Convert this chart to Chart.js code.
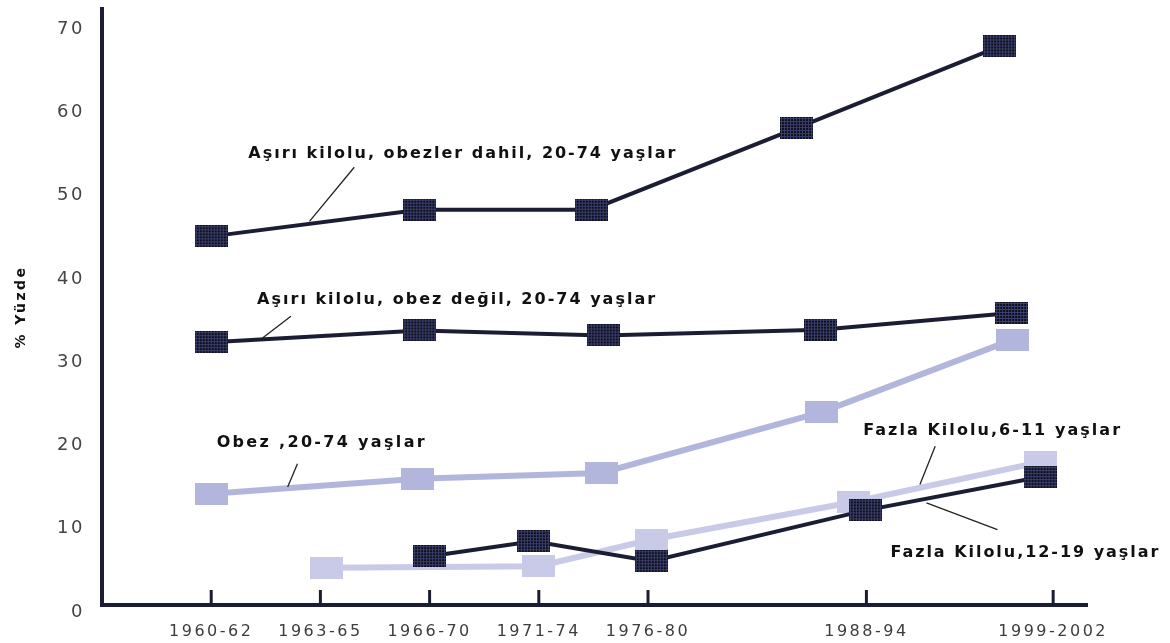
<!DOCTYPE html>
<html><head><meta charset="utf-8">
<script src="https://cdn.jsdelivr.net/npm/chart.js@4.4.1/dist/chart.umd.min.js"></script>
<style>html,body{margin:0;padding:0;background:#fff;}#wrap{width:1170px;height:643px;}</style>
</head><body><div id="wrap"><canvas id="c" width="1170" height="643"></canvas></div>
<script>
// ---- data ----
const tickPositions = [0, 1, 2, 3, 4, 6, 7.71];
const tickLabels = ['1960-62', '1963-65', '1966-70', '1971-74', '1976-80', '1988-94', '1999-2002'];
const yTicks = [0, 10, 20, 30, 40, 50, 60, 70];
const yTitle = '% Yüzde';

const seriesNames = [
  'Aşırı kilolu, obezler dahil, 20-74 yaşlar',
  'Aşırı kilolu, obez değil, 20-74 yaşlar',
  'Obez ,20-74 yaşlar',
  'Fazla Kilolu,6-11 yaşlar',
  'Fazla Kilolu,12-19 yaşlar'
];
const overweightAllX = [0, 1.91, 3.48, 5.36, 7.22];
const overweightAllY = [45.1, 48.3, 48.3, 58.1, 67.9];
const overweightNotObeseX = [0, 1.91, 3.59, 5.58, 7.33];
const overweightNotObeseY = [32.4, 33.8, 33.2, 33.9, 35.9];
const obeseX = [0, 1.89, 3.57, 5.59, 7.34];
const obeseY = [14.2, 16.0, 16.7, 24.0, 32.7];
const kids611X = [1.06, 3.0, 4.03, 5.88, 7.59];
const kids611Y = [5.3, 5.5, 8.7, 13.2, 18.0];
const teens1219X = [2.0, 2.95, 4.03, 5.99, 7.59];
const teens1219Y = [6.7, 8.5, 6.1, 12.2, 16.2];

// label anchors in data units
const labelX = [0.34, 0.42, 0.05, 5.97, 6.22];
const labelY = [55.0, 37.5, 20.3, 21.7, 7.1];
const labelWidths = [427, 398, 208, 257, 268];
const leaderLines = [
  [1.31, 53.4, 0.90, 46.9],
  [0.73, 35.5, 0.47, 32.9],
  [0.79, 17.8, 0.70, 15.0],
  [6.63, 19.9, 6.49, 15.3],
  [6.55, 13.1, 7.20, 9.9]
];

// ---- styles ----
const DARK = '#1b1d33';
const OBESE = '#b3b6dc';
const KIDS = '#c8cae7';

function makeBox(w, h, base, grid) {
  const c = document.createElement('canvas');
  c.width = w; c.height = h;
  const g = c.getContext('2d');
  g.fillStyle = base; g.fillRect(0, 0, w, h);
  if (grid) {
    g.fillStyle = grid;
    for (let x = 1; x < w; x += 3) g.fillRect(x, 0, 1, h);
    for (let y = 1; y < h; y += 3) g.fillRect(0, y, w, 1);
  }
  return c;
}
const darkBox = makeBox(33, 22, '#0c0e1b', '#3b3f6c');
const obeseBox = makeBox(33, 22, OBESE);
const kidsBox = makeBox(33, 22, KIDS);

const pts = (xs, ys) => xs.map((x, i) => ({x: x, y: ys[i]}));

function ds(label, xs, ys, color, width, box) {
  return {
    label: label, data: pts(xs, ys),
    borderColor: color, borderWidth: width, backgroundColor: color,
    pointStyle: box, pointRadius: 12, pointHoverRadius: 12,
    tension: 0, clip: false
  };
}

const datasets = [
  ds(seriesNames[0], overweightAllX, overweightAllY, DARK, 4, darkBox),
  ds(seriesNames[1], overweightNotObeseX, overweightNotObeseY, DARK, 4, darkBox),
  ds(seriesNames[4], teens1219X, teens1219Y, DARK, 4, darkBox),
  ds(seriesNames[2], obeseX, obeseY, OBESE, 6, obeseBox),
  ds(seriesNames[3], kids611X, kids611Y, KIDS, 6, kidsBox)
];

const spacingPlugin = {
  id: 'spacing',
  beforeDraw(chart) { chart.ctx.letterSpacing = '2.5px'; },
  afterDraw(chart) { chart.ctx.letterSpacing = '0px'; }
};

const tickMarks = {
  id: 'tickMarks',
  afterDatasetsDraw(chart) {
    const xs = chart.scales.x, ctx = chart.ctx;
    const b = chart.chartArea.bottom;
    ctx.save();
    ctx.strokeStyle = DARK; ctx.lineWidth = 3;
    xs.ticks.forEach(t => {
      const px = xs.getPixelForValue(t.value);
      ctx.beginPath(); ctx.moveTo(px, b - 15); ctx.lineTo(px, b); ctx.stroke();
    });
    ctx.restore();
  }
};

const annotations = {
  id: 'annotations',
  afterDatasetsDraw(chart) {
    const xs = chart.scales.x, ys = chart.scales.y, ctx = chart.ctx;
    ctx.save();
    ctx.strokeStyle = '#222'; ctx.lineWidth = 1.3;
    leaderLines.forEach(l => {
      ctx.beginPath();
      ctx.moveTo(xs.getPixelForValue(l[0]), ys.getPixelForValue(l[1]));
      ctx.lineTo(xs.getPixelForValue(l[2]), ys.getPixelForValue(l[3]));
      ctx.stroke();
    });
    ctx.fillStyle = '#111';
    ctx.font = 'bold 16px "DejaVu Sans"';
    ctx.textBaseline = 'middle';
    ctx.textAlign = 'left';
    seriesNames.forEach((name, i) => {
      ctx.letterSpacing = '0px';
      const w = ctx.measureText(name).width;
      const sp = (labelWidths[i] - w) / (name.length - 1);
      ctx.letterSpacing = sp.toFixed(2) + 'px';
      ctx.fillText(name, xs.getPixelForValue(labelX[i]), ys.getPixelForValue(labelY[i]));
    });
    ctx.restore();
  }
};

const noPad = s => { s.paddingTop = 0; s.paddingBottom = 0; s.paddingLeft = 0; s.paddingRight = 0; };

new Chart(document.getElementById('c'), {
  type: 'line',
  data: {datasets: datasets},
  options: {
    responsive: false, animation: false,
    layout: {autoPadding: false, padding: {top: 9, right: 83, bottom: 0, left: 0}},
    plugins: {legend: {display: false}, tooltip: {enabled: false}},
    scales: {
      x: {
        type: 'linear', min: -1, max: 8.02,
        afterBuildTicks: s => { s.ticks = tickPositions.map(v => ({value: v})); },
        afterFit: s => { s.height = 38; noPad(s); },
        grid: {display: false, drawTicks: false},
        border: {display: true, color: DARK, width: 4},
        ticks: {
          autoSkip: false, maxRotation: 0, padding: 17,
          color: '#3d3d3d', font: {family: 'DejaVu Sans', size: 16},
          callback: (v, i) => tickLabels[i]
        }
      },
      y: {
        type: 'linear', min: 0.84, max: 72.4,
        afterBuildTicks: s => { s.ticks = yTicks.map(v => ({value: v})); },
        afterFit: s => { s.width = 102; noPad(s); },
        grid: {display: false, drawTicks: false},
        border: {display: true, color: DARK, width: 4},
        ticks: {padding: 17, color: '#444', font: {family: 'DejaVu Sans', size: 18}},
        title: {display: true, text: yTitle, color: '#111', padding: {top: 13, bottom: 0},
                font: {family: 'DejaVu Sans', size: 14, weight: 'bold'}}
      }
    }
  },
  plugins: [spacingPlugin, tickMarks, annotations]
});
</script></body></html>
